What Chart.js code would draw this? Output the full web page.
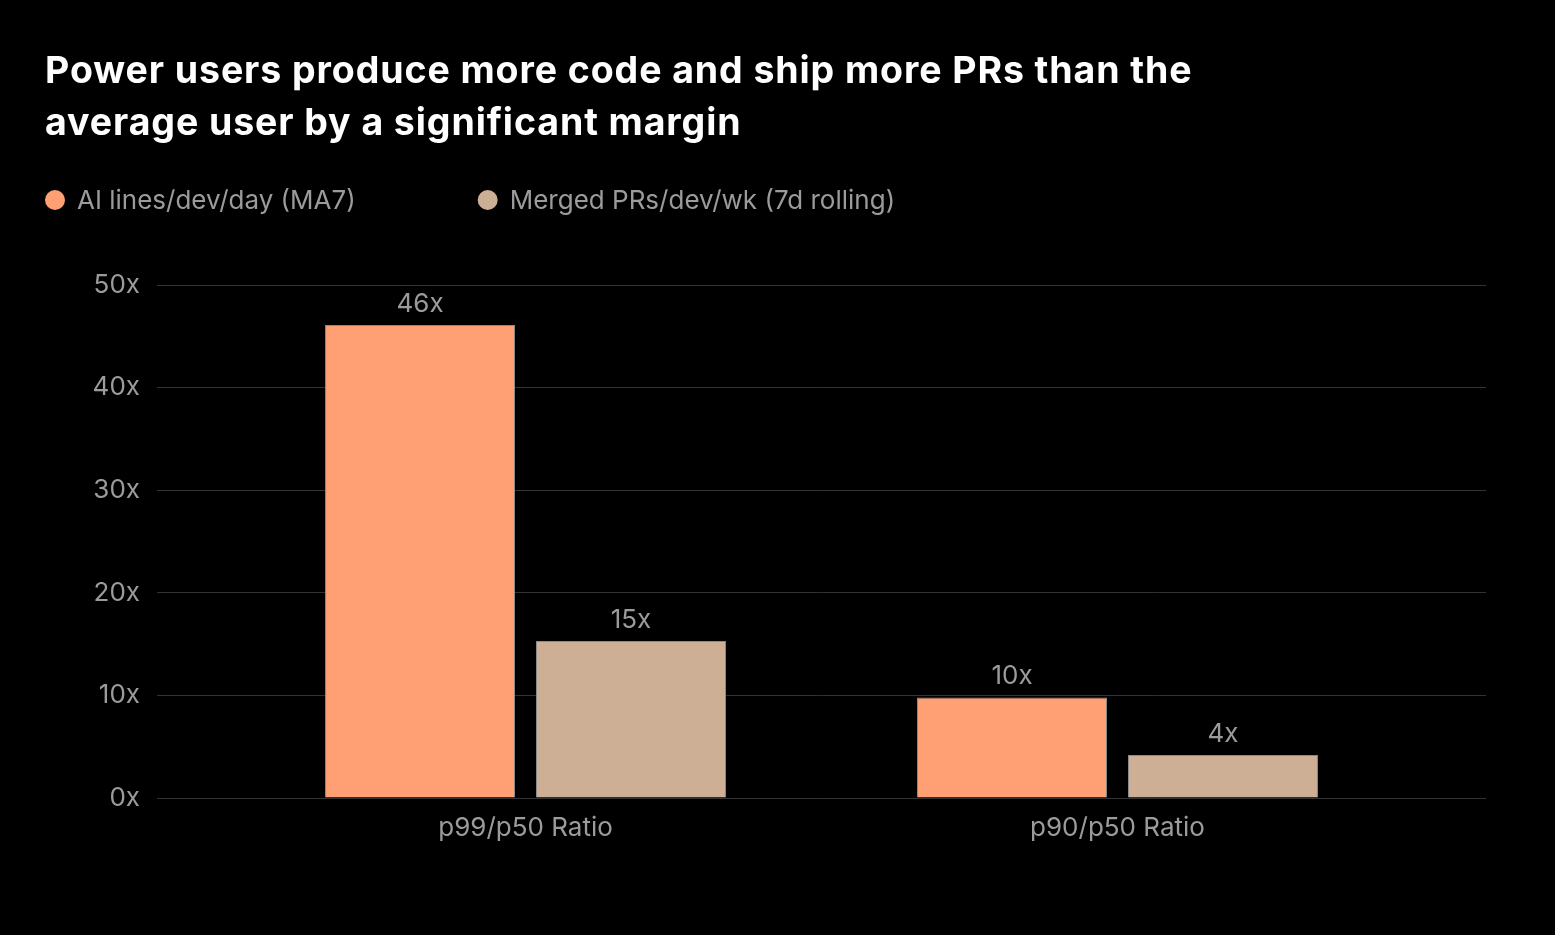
<!DOCTYPE html>
<html>
<head>
<meta charset="utf-8">
<script src="https://cdn.jsdelivr.net/npm/chart.js@4.4.1/dist/chart.umd.min.js"></script>
<style>
  html, body { margin: 0; padding: 0; background: #000; }
  #wrap { width: 1555px; height: 935px; position: relative; }
</style>
</head>
<body>
<div id="wrap"><canvas id="c"></canvas></div>
<script>
const titleLines = ['Power users produce more code and ship more PRs than the', 'average user by a significant margin'];
const categories = ['p99/p50 Ratio', 'p90/p50 Ratio'];
const seriesNames = ['AI lines/dev/day (MA7)', 'Merged PRs/dev/wk (7d rolling)'];
const aiLines = [46.1, 9.8];
const mergedPRs = [15.3, 4.2];
const yTicks = [0, 10, 20, 30, 40, 50];
const colors = ['#FFA074', '#CDAF95'];

const FONT = 'Inter, "Noto Sans", sans-serif';
const GREY = '#9b9b9b';

const toPoints = arr => arr.map((v, i) => ({ x: i, y: v }));

const titlePlugin = {
  id: 'customTitle',
  afterDraw(chart) {
    const ctx = chart.ctx;
    ctx.save();
    ctx.font = '700 37.5px ' + FONT;
    if ('letterSpacing' in ctx) ctx.letterSpacing = '0.9px';
    ctx.fillStyle = '#ffffff';
    ctx.textAlign = 'left';
    ctx.textBaseline = 'alphabetic';
    titleLines.forEach((line, i) => ctx.fillText(line, 45, 83 + i * 52));
    ctx.restore();
  }
};

const legendPlugin = {
  id: 'customLegend',
  afterDraw(chart) {
    const ctx = chart.ctx;
    ctx.save();
    ctx.font = '400 26px ' + FONT;
    ctx.textBaseline = 'middle';
    ctx.textAlign = 'left';
    let x = 45;
    const y = 201;
    const r = 10;
    chart.data.datasets.forEach((ds) => {
      ctx.fillStyle = ds.backgroundColor;
      ctx.beginPath();
      ctx.arc(x + r, y - 1, r, 0, Math.PI * 2);
      ctx.fill();
      ctx.fillStyle = GREY;
      ctx.fillText(ds.label, x + 2 * r + 12, y);
      x += 2 * r + 12 + ctx.measureText(ds.label).width + 122;
    });
    ctx.restore();
  }
};

const valueLabelPlugin = {
  id: 'valueLabels',
  afterDatasetsDraw(chart) {
    const ctx = chart.ctx;
    ctx.save();
    ctx.font = '400 26px ' + FONT;
    ctx.fillStyle = GREY;
    ctx.textAlign = 'center';
    ctx.textBaseline = 'middle';
    chart.data.datasets.forEach((ds, di) => {
      const meta = chart.getDatasetMeta(di);
      meta.data.forEach((bar, i) => {
        const v = ds.data[i].y;
        ctx.fillText(Math.round(v) + 'x', bar.x, bar.y - 21);
      });
    });
    ctx.restore();
  }
};

new Chart(document.getElementById('c'), {
  type: 'bar',
  data: {
    datasets: [
      { label: seriesNames[0], data: toPoints(aiLines), backgroundColor: colors[0], borderColor: '#8a8a8a', borderWidth: 1 },
      { label: seriesNames[1], data: toPoints(mergedPRs), backgroundColor: colors[1], borderColor: '#8a8a8a', borderWidth: 1 }
    ]
  },
  options: {
    responsive: true,
    maintainAspectRatio: false,
    animation: false,
    devicePixelRatio: 1,
    categoryPercentage: 0.7128,
    barPercentage: 0.9005,
    layout: { padding: { left: 45, right: 69, top: 285, bottom: 0 } },
    plugins: {
      legend: { display: false },
      tooltip: { enabled: false },
      title: { display: false }
    },
    scales: {
      x: {
        type: 'linear',
        offset: false,
        min: -0.6225,
        max: 1.6225,
        grid: { display: false, drawTicks: false },
        border: { display: false },
        afterBuildTicks: s => { s.ticks = categories.map((_, i) => ({ value: i })); },
        afterFit: s => { s.height = 935 - 798; },
        ticks: {
          color: GREY,
          font: { family: FONT, size: 26 },
          padding: 15,
          autoSkip: false,
          maxRotation: 0,
          callback: v => categories[v]
        }
      },
      y: {
        min: 0,
        max: 50,
        afterBuildTicks: s => { s.ticks = yTicks.map(v => ({ value: v })); },
        afterFit: s => { s.width = 112; },
        grid: { color: '#333333', lineWidth: 1, drawTicks: false },
        border: { display: false },
        ticks: {
          color: GREY,
          font: { family: FONT, size: 26 },
          padding: 17,
          callback: v => v + 'x'
        }
      }
    }
  },
  plugins: [titlePlugin, legendPlugin, valueLabelPlugin]
});
</script>
</body>
</html>
